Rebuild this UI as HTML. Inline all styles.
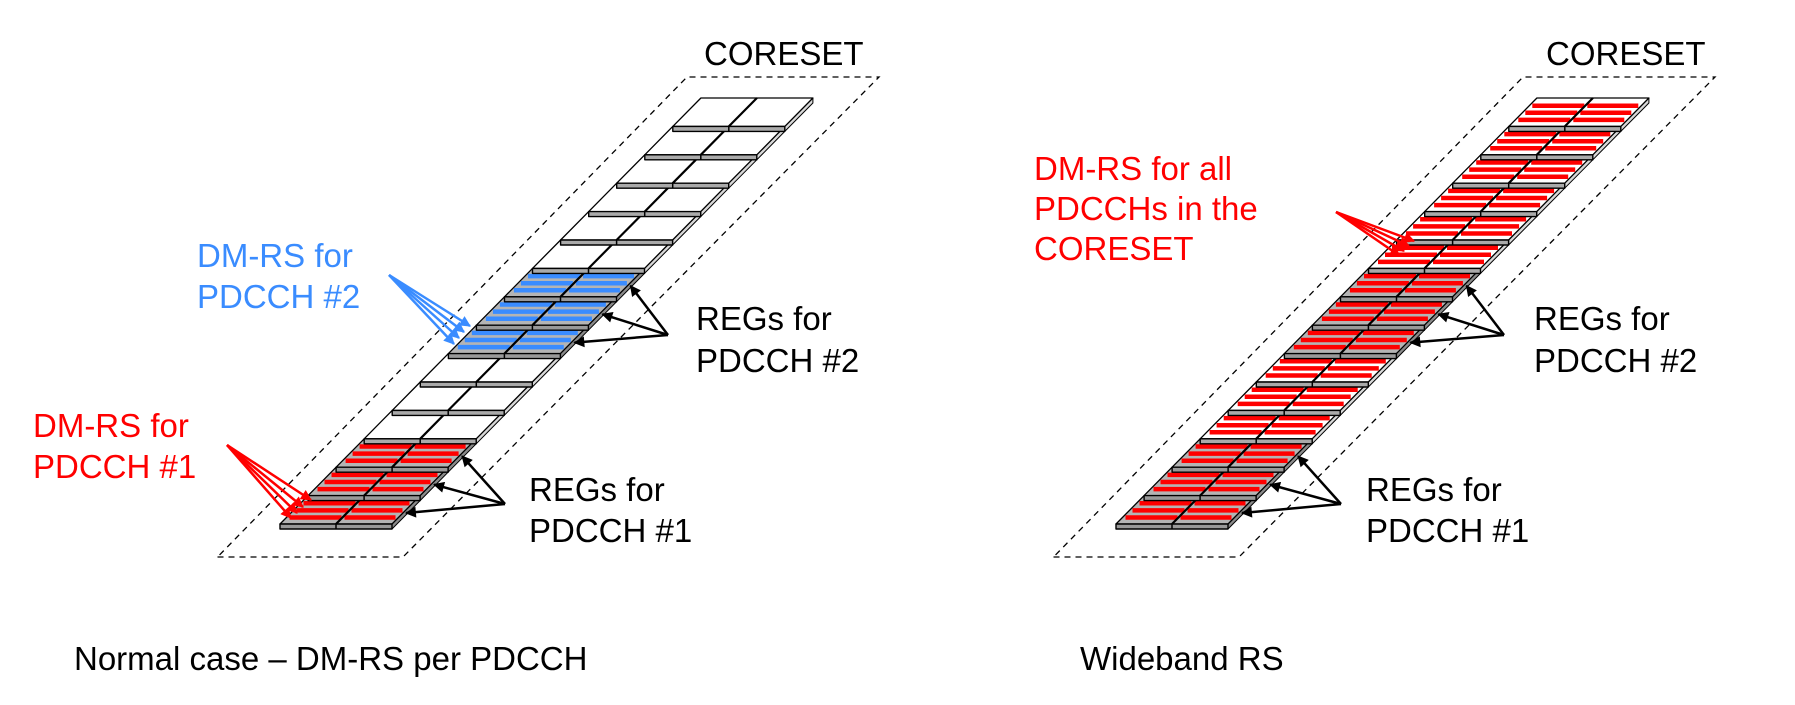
<!DOCTYPE html>
<html><head><meta charset="utf-8"><style>
html,body{margin:0;padding:0;background:#fff;width:1795px;height:705px;overflow:hidden}
svg{display:block}
text{font-family:"Liberation Sans",Arial,sans-serif;font-size:33px}
</style></head><body>
<svg id="s" width="1795" height="705" viewBox="0 0 1795 705" xmlns="http://www.w3.org/2000/svg">
<defs>
<marker id="ak" viewBox="0 0 10 10" refX="9" refY="5" markerWidth="16" markerHeight="11" orient="auto" markerUnits="userSpaceOnUse"><path d="M0,0L10,5L0,10z" fill="#000"/></marker>
<marker id="ar" viewBox="0 0 10 10" refX="9" refY="5" markerWidth="16" markerHeight="11" orient="auto" markerUnits="userSpaceOnUse"><path d="M0,0L10,5L0,10z" fill="#f00"/></marker>
<marker id="ab" viewBox="0 0 10 10" refX="9" refY="5" markerWidth="16" markerHeight="11" orient="auto" markerUnits="userSpaceOnUse"><path d="M0,0L10,5L0,10z" fill="#3a8cff"/></marker>
</defs>
<g id="g"></g>
<text x="704" y="65">CORESET</text>
<text x="1546" y="65">CORESET</text>
<text x="197" y="267" fill="#3a8cff">DM-RS for</text>
<text x="197" y="308" fill="#3a8cff">PDCCH #2</text>
<text x="33" y="437" fill="#f00">DM-RS for</text>
<text x="33" y="478" fill="#f00">PDCCH #1</text>
<text x="696" y="330">REGs for</text>
<text x="696" y="372">PDCCH #2</text>
<text x="529" y="501">REGs for</text>
<text x="529" y="542">PDCCH #1</text>
<text x="1534" y="330">REGs for</text>
<text x="1534" y="372">PDCCH #2</text>
<text x="1366" y="501">REGs for</text>
<text x="1366" y="542">PDCCH #1</text>
<text x="1034" y="180" fill="#f00">DM-RS for all</text>
<text x="1034" y="220" fill="#f00">PDCCHs in the</text>
<text x="1034" y="260" fill="#f00">CORESET</text>
<text x="74" y="670">Normal case – DM-RS per PDCCH</text>
<text x="1080" y="670">Wideband RS</text>
</svg>
<script>
var g=document.getElementById('g'),o='';
function P(pts,f,sw){return '<polygon points="'+pts.map(function(p){return p[0].toFixed(1)+','+p[1].toFixed(1)}).join(' ')+'" fill="'+f+'" stroke="#000" stroke-width="'+(sw||1.3)+'" stroke-linejoin="round"/>';}
function L(x1,y1,x2,y2,c,w,extra){return '<line x1="'+x1.toFixed(1)+'" y1="'+y1.toFixed(1)+'" x2="'+x2.toFixed(1)+'" y2="'+y2.toFixed(1)+'" stroke="'+c+'" stroke-width="'+w+'" '+(extra||'')+'/>';}
var h=28.4,k=0.988,W=112,T=5;
function strip(off,kind){
  var d=[[217.5+off,557],[403+off,557],[879+off,77],[687+off,77]];
  o+='<polygon points="'+d.map(function(p){return p.join(',')}).join(' ')+'" fill="none" stroke="#000" stroke-width="1.3" stroke-dasharray="6,5"/>';
  for(var i=0;i<15;i++){
    var yb=524-i*h,yt=yb-h;
    var xL=function(y){return 280+off+(524-y)*k;};
    var gray=(i<3)||(i>=6&&i<9);
    var stripe=null;
    if(kind==0){ if(i<3)stripe='#f00'; else if(i>=6&&i<9)stripe='#3a8cff'; }
    else stripe='#f00';
    var a=xL(yb),b=xL(yt);
    o+=P([[a+W,yb],[b+W,yt],[b+W,yt+T],[a+W,yb+T]],gray?'#8a8a8a':'#d8d8d8',1);
    o+=P([[a,yb],[a+W,yb],[b+W,yt],[b,yt]],gray?'#b4b4b4':'#fff',1.3);
    if(stripe){
      [0.27,0.52,0.77].forEach(function(f){
        var y=yt+h*f,x=xL(y);
        o+=L(x+3,y,x+55,y,stripe,4.5);
        o+=L(x+58,y,x+W-3,y,stripe,4.5);
      });
    }
    o+=L(a+56,yb,b+56,yt,'#000',2.2);
    o+=P([[a,yb],[a+W,yb],[a+W,yb+T],[a,yb+T]],gray?'#999':'#aaa',1.4);
    o+=L(a+56,yb,a+56,yb+T,'#000',1.5);
  }
  function rowTip(i){var yb=524-i*h;var x=280+off+i*h*k+W;return [x+14,yb-11];}
  [[2,1,0,[505+off,504]],[8,7,6,[668+off,335]]].forEach(function(s){
    var O=s[3];
    for(var j=0;j<3;j++){var t=rowTip(s[j]);o+=L(O[0],O[1],t[0],t[1],'#000',2.5,'marker-end="url(#ak)"');}
  });
}
strip(0,0);strip(836,1);
function fan(O,tips,m,c){tips.forEach(function(t){o+=L(O[0],O[1],t[0],t[1],c,2.5,'marker-end="url(#'+m+')"');});}
fan([227,445],[[311,500],[303,507],[297,513],[291,518]],'ar','#f00');
fan([389,275],[[470,326],[464,332],[459,338],[454,344]],'ab','#3a8cff');
fan([1336,212],[[1414,241],[1409,246],[1404,251],[1400,256]],'ar','#f00');
g.innerHTML=o;
</script>
</body></html>
